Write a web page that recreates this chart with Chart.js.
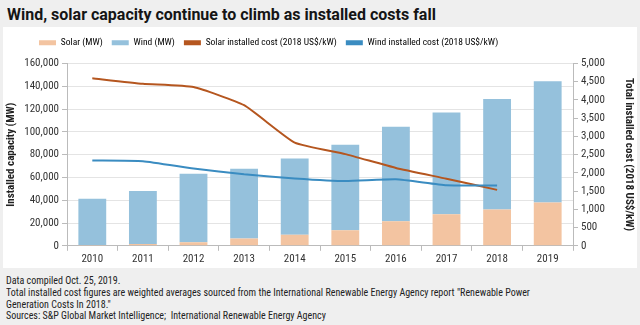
<!DOCTYPE html>
<html>
<head>
<meta charset="utf-8">
<script src="https://cdn.jsdelivr.net/npm/chart.js@4"></script>
<style>
  html, body { margin: 0; padding: 0; }
  body { width: 640px; height: 325px; background: #efefef; position: relative; overflow: hidden;
         font-family: "Roboto Condensed", "Liberation Sans", Arial, sans-serif; color: #222; }
  #title { position: absolute; left: 7px; top: 4px; font-family: Roboto, "Liberation Sans", Arial, sans-serif;
           font-size: 17px; font-weight: bold; color: #151515; white-space: nowrap;
           transform-origin: left top; }
  #panel { position: absolute; left: 3px; top: 27px; width: 634px; height: 241px; background: #fff; }
  #notes { position: absolute; left: 6px; top: 275px; font-size: 11px; line-height: 11.8px; color: #222;
           white-space: nowrap; transform: scaleX(0.91); transform-origin: left top; }
</style>
</head>
<body>
<div id="title">Wind, solar capacity continue to climb as installed costs fall</div>
<div id="panel"><canvas id="chart" width="634" height="241"></canvas></div>
<div id="notes">
Data compiled Oct. 25, 2019.<br>
Total installed cost figures are weighted averages sourced from the International Renewable Energy Agency report "Renewable Power<br>
Generation Costs In 2018."<br>
Sources: S&amp;P Global Market Intelligence;&nbsp; International Renewable Energy Agency
</div>
<script>
var years = ["2010", "2011", "2012", "2013", "2014", "2015", "2016", "2017", "2018", "2019"];
var solar_mw = [800, 1500, 3200, 6500, 9800, 13600, 21600, 27800, 31900, 37900];
var wind_mw = [40500, 46500, 60000, 61200, 66800, 75100, 82900, 89300, 97000, 106500];
var solar_cost = [4595, 4445, 4354, 3855, 2829, 2515, 2135, 1839, 1534, null];
var wind_cost = [2338, 2320, 2117, 1960, 1849, 1775, 1822, 1660, 1655, null];

// squeeze the title to the reference width
var title = document.getElementById('title');
title.style.transform = 'scaleX(' + (429 / title.offsetWidth) + ')';

Chart.defaults.font.family = '"Roboto Condensed", "Liberation Sans", Arial, sans-serif';
Chart.defaults.font.size = 11;
Chart.defaults.color = '#333';

// legend sits left of centre and a bit higher than chart.js puts it
var legend_tweak = {
  id: 'legend_tweak',
  beforeInit: function(chart) {
    var fit = chart.legend.fit;
    chart.legend.fit = function() {
      fit.call(this);
      this.height += 6;
    };
  },
  afterLayout: function(chart) {
    chart.legend.left += 27;
    chart.legend.right += 27;
  }
};

var ctx = document.getElementById('chart').getContext('2d');
var chart = new Chart(ctx, {
  plugins: [legend_tweak],
  data: {
    labels: years,
    datasets: [
      {
        type: 'line',
        label: 'Solar installed cost (2018 US$/kW)',
        data: solar_cost,
        yAxisID: 'y1',
        borderColor: '#b5561f',
        backgroundColor: '#b5561f',
        borderWidth: 2,
        pointRadius: 0,
        tension: 0.15,
        order: 1
      },
      {
        type: 'line',
        label: 'Wind installed cost (2018 US$/kW)',
        data: wind_cost,
        yAxisID: 'y1',
        borderColor: '#3a8cc1',
        backgroundColor: '#3a8cc1',
        borderWidth: 2,
        pointRadius: 0,
        tension: 0.15,
        order: 0
      },
      {
        type: 'bar',
        label: 'Solar (MW)',
        data: solar_mw,
        yAxisID: 'y',
        backgroundColor: '#f3c4a1',
        categoryPercentage: 0.55,
        barPercentage: 1,
        order: 2
      },
      {
        type: 'bar',
        label: 'Wind (MW)',
        data: wind_mw,
        yAxisID: 'y',
        backgroundColor: '#95c1dc',
        categoryPercentage: 0.55,
        barPercentage: 1,
        order: 3
      }
    ]
  },
  options: {
    responsive: false,
    animation: false,
    layout: { padding: { top: 2, bottom: 0, left: 0, right: 0 } },
    plugins: {
      legend: {
        position: 'top',
        align: 'start',
        labels: {
          boxWidth: 17,
          boxHeight: 5,
          padding: 9,
          color: '#333',
          font: { size: 9.5 },
          generateLabels: function(chart) {
            var order = [2, 3, 0, 1];
            return order.map(function(i) {
              var ds = chart.data.datasets[i];
              var isLine = ds.type === 'line';
              var c = isLine ? ds.borderColor : ds.backgroundColor;
              return {
                text: ds.label,
                fillStyle: c,
                strokeStyle: c,
                lineWidth: 0,
                hidden: false,
                datasetIndex: i
              };
            });
          }
        }
      },
      tooltip: { enabled: false }
    },
    scales: {
      x: {
        stacked: true,
        grid: { offset: true, drawOnChartArea: false, drawTicks: true, tickLength: 5, color: '#bbb' },
        border: { display: true, color: '#bbb' },
        ticks: { color: '#333', padding: 2 }
      },
      y: {
        stacked: true,
        position: 'left',
        min: 0,
        max: 160000,
        ticks: { stepSize: 20000, color: '#333', padding: 3,
          callback: function(v) { return v.toLocaleString('en-US'); } },
        grid: { color: '#e4e4e4', tickLength: 5, tickColor: '#bbb' },
        border: { display: true, color: '#bbb' },
        title: { display: true, text: 'Installed capacity (MW)', font: { weight: 'bold', size: 11 }, color: '#222', padding: 2 },
        afterFit: function(scale) { scale.width = 64; }
      },
      y1: {
        position: 'right',
        min: 0,
        max: 5000,
        ticks: { stepSize: 500, color: '#333', padding: 3,
          callback: function(v) { return v.toLocaleString('en-US'); } },
        grid: { drawOnChartArea: false, tickLength: 5, color: '#bbb' },
        border: { display: true, color: '#bbb' },
        title: { display: true, text: 'Total installed cost (2018 US$/kW)', font: { weight: 'bold', size: 11 }, color: '#222', padding: 2 },
        afterFit: function(scale) { scale.width = 64; }
      }
    }
  }
});
</script>
</body>
</html>
